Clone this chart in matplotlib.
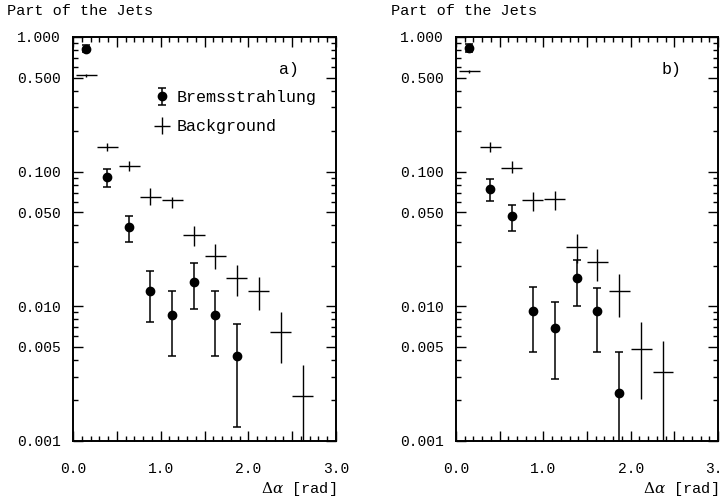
import numpy as np
import matplotlib
matplotlib.use("Agg")
import matplotlib.pyplot as plt
from matplotlib.ticker import FixedLocator, LogLocator, MultipleLocator, FuncFormatter, NullFormatter

plt.rcParams['font.family'] = ['Liberation Mono', 'DejaVu Sans']
plt.rcParams['mathtext.fontset'] = 'dejavuserif'

# bin centres (rad)
x_bins = [0.15, 0.39, 0.64, 0.88, 1.13, 1.38, 1.62, 1.87, 2.12, 2.37, 2.62]
bin_halfwidth = 0.12

# panel a)
brems_a = [0.82, 0.091, 0.039, 0.013, 0.0086, 0.0152, 0.0086, 0.0043]
brems_a_lo = [0.77, 0.077, 0.030, 0.0077, 0.0043, 0.0095, 0.0043, 0.00127]
brems_a_hi = [0.87, 0.105, 0.047, 0.0182, 0.013, 0.021, 0.013, 0.0074]
bg_a = [0.52, 0.153, 0.110, 0.065, 0.062, 0.0337, 0.0237, 0.0163, 0.0130, 0.0065, 0.00216]
bg_a_lo = [0.505, 0.142, 0.101, 0.057, 0.054, 0.0279, 0.0188, 0.0119, 0.0094, 0.0038, 0.0005]
bg_a_hi = [0.535, 0.162, 0.119, 0.075, 0.065, 0.0395, 0.0288, 0.0202, 0.0164, 0.0091, 0.00365]

# panel b)
brems_b = [0.83, 0.0747, 0.0465, 0.0092, 0.00685, 0.0161, 0.0092, 0.00229]
brems_b_lo = [0.78, 0.061, 0.0361, 0.00457, 0.0029, 0.010, 0.00457, 0.0005]
brems_b_hi = [0.88, 0.0877, 0.0564, 0.0138, 0.0108, 0.0222, 0.0137, 0.00457]
bg_b = [0.556, 0.153, 0.107, 0.0615, 0.063, 0.0276, 0.0212, 0.0131, 0.00483, 0.00326]
bg_b_lo = [0.54, 0.140, 0.097, 0.0508, 0.052, 0.021, 0.0153, 0.0084, 0.00205, 0.0005]
bg_b_hi = [0.57, 0.166, 0.119, 0.0706, 0.072, 0.0345, 0.0268, 0.0175, 0.0077, 0.0055]

y_major = [0.001, 0.005, 0.01, 0.05, 0.1, 0.5, 1.0]

fig = plt.figure(figsize=(7.21, 5.03), dpi=100)
axes = [fig.add_axes([73/721, 62/503, 263/721, 404/503]),
        fig.add_axes([456/721, 62/503, 262/721, 404/503])]

panels = [
    (brems_a, brems_a_lo, brems_a_hi, bg_a, bg_a_lo, bg_a_hi, 'a)'),
    (brems_b, brems_b_lo, brems_b_hi, bg_b, bg_b_lo, bg_b_hi, 'b)'),
]

for i, (ax, (br, brlo, brhi, bg, bglo, bghi, tag)) in enumerate(zip(axes, panels)):
    xb = np.array(x_bins[:len(br)])
    br = np.array(br)
    e_br = [br - np.array(brlo), np.array(brhi) - br]
    xg = np.array(x_bins[:len(bg)])
    bg = np.array(bg)
    e_bg = [bg - np.array(bglo), np.array(bghi) - bg]

    h_bg = ax.errorbar(xg, bg, xerr=bin_halfwidth, yerr=e_bg, fmt='none',
                       ecolor='black', elinewidth=1.0, capsize=0)
    h_br = ax.errorbar(xb, br, yerr=e_br, fmt='o', color='black', ms=6,
                       ecolor='black', elinewidth=1.1, capsize=3, capthick=1.1)

    ax.set_yscale('log')
    ax.set_ylim(0.001, 1.0)
    ax.set_xlim(0.0, 3.0)
    ax.yaxis.set_major_locator(FixedLocator(y_major))
    ax.yaxis.set_major_formatter(FuncFormatter(lambda v, p: f"{v:.3f}"))
    ax.yaxis.set_minor_locator(LogLocator(base=10, subs=[2, 3, 4, 6, 7, 8, 9]))
    ax.yaxis.set_minor_formatter(NullFormatter())
    ax.xaxis.set_major_locator(MultipleLocator(0.5))
    ax.xaxis.set_major_formatter(FuncFormatter(
        lambda v, p: f"{v:.1f}" if abs(v - round(v)) < 1e-6 else ""))
    ax.xaxis.set_minor_locator(MultipleLocator(0.1))
    ax.tick_params(which='both', direction='in', top=True, right=True,
                   labelsize=10.5, width=1.0)
    ax.tick_params(which='major', length=7)
    ax.tick_params(axis='y', which='major', pad=9)
    ax.tick_params(axis='x', which='major', pad=15)
    ax.tick_params(which='minor', length=3.5)
    for s in ax.spines.values():
        s.set_linewidth(1.4)

    ax.text(0.86, 0.92, tag, transform=ax.transAxes, fontsize=12,
            ha='right', va='center')
    ax.text(1.0, -0.12, r"$\Delta\alpha$ [rad]", transform=ax.transAxes,
            fontsize=11, ha='right', va='center')
    ax.text(-0.25, 1.065, "Part of the Jets",
            transform=ax.transAxes, fontsize=11, ha='left', va='center')

    if i == 0:
        ax.legend([h_br, h_bg], ["Bremsstrahlung", "Background"],
                  loc='upper left', bbox_to_anchor=(0.30, 0.868),
                  frameon=False, fontsize=12, handlelength=1.2,
                  handletextpad=0.3, labelspacing=0.85,
                  borderpad=0, borderaxespad=0)

fig.savefig("out.png", dpi=100)
